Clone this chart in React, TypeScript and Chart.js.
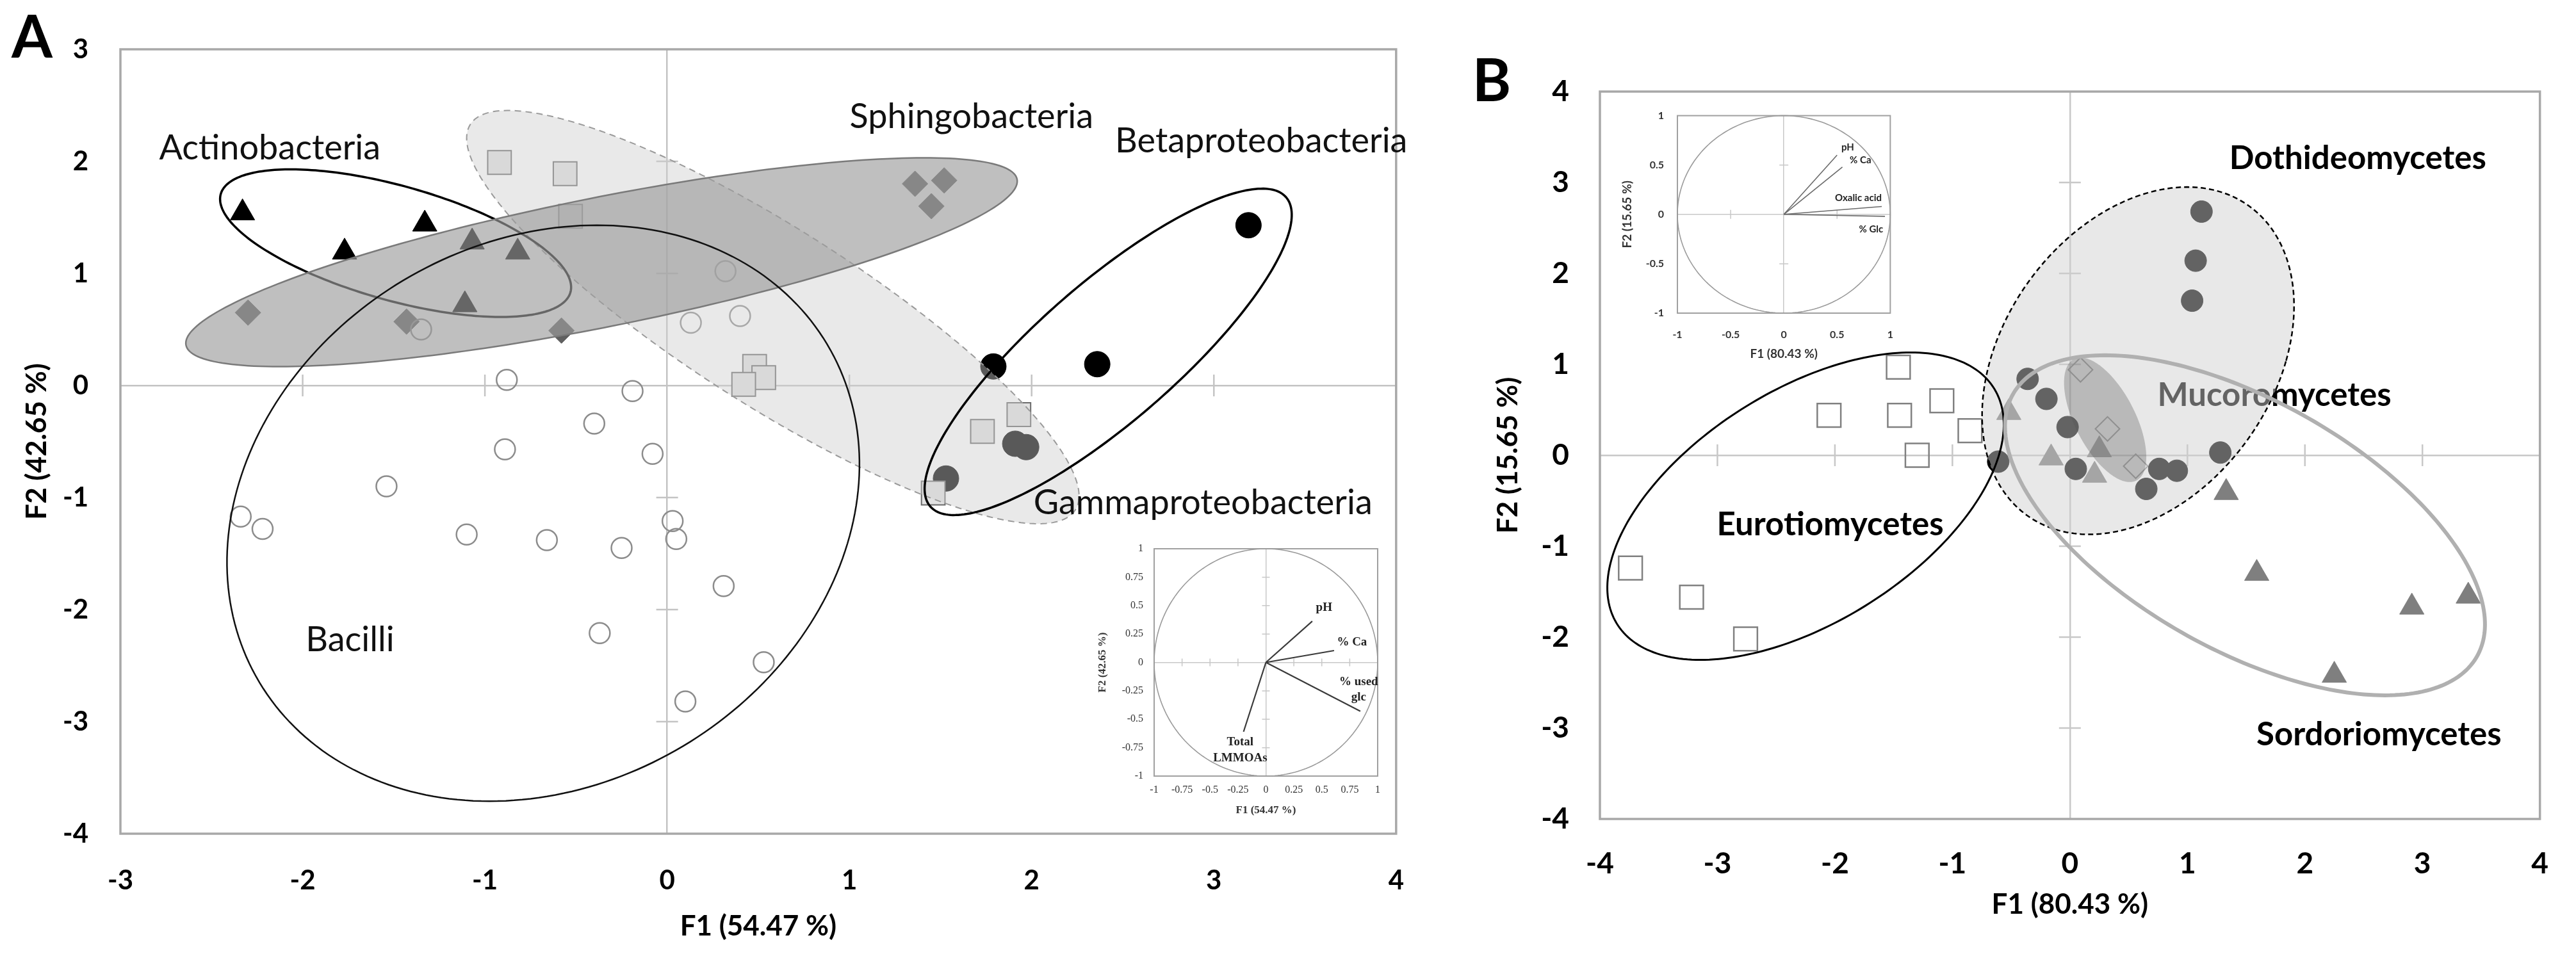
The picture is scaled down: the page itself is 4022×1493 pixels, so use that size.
import React, { useEffect, useRef } from 'react';
import { Chart, registerables } from 'chart.js';

Chart.register(...registerables);

type Pt = [number, number];

// ---------------- Panel A data ----------------
const A_X_TICKS = [-3, -2, -1, 0, 1, 2, 3, 4];
const A_Y_TICKS = [-4, -3, -2, -1, 0, 1, 2, 3];

const A_BACILLI: Pt[] = [
  [-1.35, 0.5], [-0.88, 0.05], [-0.89, -0.57], [-1.54, -0.9], [-2.34, -1.17], [-2.22, -1.28],
  [-1.1, -1.33], [-0.66, -1.38], [0.32, 1.02], [0.13, 0.56], [0.4, 0.62], [-0.19, -0.05],
  [-0.4, -0.34], [-0.08, -0.61], [0.03, -1.21], [0.05, -1.37], [-0.25, -1.45], [0.31, -1.79],
  [-0.37, -2.21], [0.53, -2.47], [0.1, -2.82],
];
const A_ACTINO: Pt[] = [[-2.33, 1.54], [-1.33, 1.44], [-1.77, 1.19], [-1.07, 1.28], [-0.82, 1.19], [-1.11, 0.72]];
const A_SPHINGO: Pt[] = [[-2.3, 0.65], [-1.43, 0.57], [-0.58, 0.49], [1.36, 1.8], [1.52, 1.83], [1.45, 1.6]];
const A_GAMMA: Pt[] = [[-0.92, 1.99], [-0.56, 1.89], [-0.53, 1.51], [0.48, 0.17], [0.53, 0.07], [0.42, 0.01], [1.93, -0.26], [1.73, -0.41], [1.46, -0.96]];
const A_BETA: Pt[] = [[3.19, 1.43], [2.36, 0.19], [1.79, 0.17], [1.91, -0.52], [1.97, -0.55], [1.53, -0.83]];

// ellipses: centre x, centre y, semi-axis u (x, y), semi-axis v (x, y) in data units
const A_ELL_BACILLI = [-0.68, -1.14, 1.71, 0, 0.295, 2.57];
const A_ELL_ACTINO = [-1.49, 1.27, 0.96, -0.35, -0.077, 0.558];
const A_ELL_SPHINGO = [-0.36, 1.1, 2.28, 0.74, 0.069, -0.566];
const A_ELL_GAMMA = [0.58, 0.61, 1.66, -1.72, -0.26, -0.665];
const A_ELL_BETA = [2.42, 0.3, 0.976, 1.38, 0.249, -0.466];

const A_GROUP_LABELS = ['Actinobacteria', 'Sphingobacteria', 'Betaproteobacteria', 'Gammaproteobacteria', 'Bacilli'];
const A_GROUP_LABEL_X = [-2.18, 1.67, 3.26, 2.94, -1.74];
const A_GROUP_LABEL_Y = [2.13, 2.41, 2.19, -1.04, -2.26];

// inset A (correlation circle)
const AI_TICKS = [-1, -0.75, -0.5, -0.25, 0, 0.25, 0.5, 0.75, 1];
const AI_VEC_X = [0.415, 0.61, 0.845, -0.2];
const AI_VEC_Y = [0.363, 0.104, -0.43, -0.61];
const AI_VEC_LABELS = ['pH', '% Ca', '% used\nglc', 'Total\nLMMOAs'];
const AI_VEC_LABEL_X = [0.52, 0.77, 0.83, -0.23];
const AI_VEC_LABEL_Y = [0.49, 0.19, -0.16, -0.69];

// ---------------- Panel B data ----------------
const B_TICKS = [-4, -3, -2, -1, 0, 1, 2, 3, 4];

const B_EUROTIO: Pt[] = [[-3.74, -1.24], [-3.22, -1.56], [-2.76, -2.02], [-2.05, 0.44], [-1.45, 0.44], [-1.3, 0.0], [-1.46, 0.97], [-1.09, 0.6], [-0.85, 0.27]];
const B_SORDARIO: Pt[] = [[1.59, -1.3], [2.91, -1.67], [3.39, -1.55], [2.25, -2.42], [1.33, -0.41], [-0.16, -0.03], [0.21, -0.22], [0.25, 0.06], [-0.52, 0.47]];
const B_DOTHI: Pt[] = [[1.12, 2.68], [1.07, 2.14], [1.04, 1.7], [-0.36, 0.84], [-0.2, 0.62], [-0.02, 0.31], [0.05, -0.15], [0.76, -0.15], [0.91, -0.17], [0.65, -0.37], [1.28, 0.03], [-0.61, -0.07]];
const B_MUCOR: Pt[] = [[0.09, 0.94], [0.32, 0.29], [0.56, -0.12]];

const B_ELL_EUROTIO = [-2.25, -0.56, 1.43, 0, 0.895, 1.69];
const B_ELL_DOTHI = [0.58, 1.04, 1.26, 0, 0.418, 1.91];
const B_ELL_SORDARIO = [1.49, -0.77, 1.66, 0, -1.19, 1.87];
const B_ELL_MUCOR = [0.3, 0.39, 0.268, -0.666, -0.225, -0.158];

const B_GROUP_LABELS = ['Dothideomycetes', 'Mucoromycetes', 'Eurotiomycetes', 'Sordoriomycetes'];
const B_GROUP_LABEL_X = [2.45, 1.74, -2.04, 2.63];
const B_GROUP_LABEL_Y = [3.28, 0.67, -0.75, -3.06];

// inset B
const BI_TICKS = [-1, -0.5, 0, 0.5, 1];
const BI_VEC_X = [0.5, 0.55, 0.92, 0.95];
const BI_VEC_Y = [0.6, 0.48, 0.08, -0.02];
const BI_VEC_LABELS = ['pH', '% Ca', 'Oxalic acid', '% Glc'];
const BI_VEC_LABEL_X = [0.6, 0.72, 0.7, 0.82];
const BI_VEC_LABEL_Y = [0.68, 0.55, 0.17, -0.15];

const UNIT_CIRCLE = [0, 0, 1, 0, 0, 1];

// ---------------- helpers ----------------
const SANS = 'Lato, "Open Sans", "DejaVu Sans", sans-serif';
const SERIF = '"Liberation Serif", "DejaVu Serif", serif';

const toXY = (a: Pt[]) => a.map(([x, y]) => ({ x, y }));
const plainTick = (v: any) => String(Math.round(Number(v) * 100) / 100);

function ellPath(ctx: CanvasRenderingContext2D, chart: any, e: number[]) {
  const xs = chart.scales.x;
  const ys = chart.scales.y;
  const n = 240;
  ctx.beginPath();
  for (let i = 0; i <= n; i++) {
    const t = (i / n) * Math.PI * 2;
    const dx = e[0] + e[2] * Math.cos(t) + e[4] * Math.sin(t);
    const dy = e[1] + e[3] * Math.cos(t) + e[5] * Math.sin(t);
    const px = xs.getPixelForValue(dx);
    const py = ys.getPixelForValue(dy);
    if (i === 0) ctx.moveTo(px, py);
    else ctx.lineTo(px, py);
  }
  ctx.closePath();
}

function frameAndCross(chart: any, len: number, frameColor: string, frameW: number, crossColor: string, crossW: number) {
  const { ctx, chartArea: a } = chart;
  const xs = chart.scales.x;
  const ys = chart.scales.y;
  const x0 = xs.getPixelForValue(0);
  const y0 = ys.getPixelForValue(0);
  ctx.save();
  ctx.strokeStyle = crossColor;
  ctx.lineWidth = crossW;
  ctx.beginPath();
  xs.ticks.forEach((t: any) => {
    if (t.value === 0 || t.value === xs.min || t.value === xs.max) return;
    const px = xs.getPixelForValue(t.value);
    ctx.moveTo(px, y0 - len);
    ctx.lineTo(px, y0 + len);
  });
  ys.ticks.forEach((t: any) => {
    if (t.value === 0 || t.value === ys.min || t.value === ys.max) return;
    const py = ys.getPixelForValue(t.value);
    ctx.moveTo(x0 - len, py);
    ctx.lineTo(x0 + len, py);
  });
  ctx.stroke();
  ctx.strokeStyle = frameColor;
  ctx.lineWidth = frameW;
  ctx.strokeRect(a.left, a.top, a.right - a.left, a.bottom - a.top);
  ctx.restore();
}

function text(ctx: CanvasRenderingContext2D, s: string, px: number, py: number, font: string, size: number, weight: string, color: string, lineGap = 1.3) {
  ctx.font = `${weight} ${size}px ${font}`;
  ctx.fillStyle = color;
  ctx.textAlign = 'center';
  ctx.textBaseline = 'alphabetic';
  s.split('\n').forEach((line, i) => {
    ctx.fillText(line, px, py + 0.36 * size + i * size * lineGap);
  });
}

function dataText(chart: any, s: string, x: number, y: number, font: string, size: number, weight: string, color: string, lineGap = 1.3) {
  text(chart.ctx, s, chart.scales.x.getPixelForValue(x), chart.scales.y.getPixelForValue(y), font, size, weight, color, lineGap);
}

function gridZero(color: string, w: number) {
  return {
    drawTicks: false,
    lineWidth: w,
    color: (c: any) => (c.tick && c.tick.value === 0 ? color : 'rgba(0,0,0,0)'),
  };
}

function ptDataset(label: string, pts: Pt[], style: string, r: number, bg: string, border: string, bw: number) {
  return {
    label,
    data: toXY(pts),
    pointStyle: style,
    pointRadius: r,
    pointHoverRadius: r,
    backgroundColor: bg,
    borderColor: border,
    borderWidth: bw,
  };
}

// ---------------- chart configs ----------------
function configA(): any {
  const plugin = {
    id: 'panelA',
    beforeDatasetsDraw(chart: any) {
      frameAndCross(chart, 17, '#a8a8a8', 3.5, '#c4c4c4', 2.5);
    },
    afterDatasetsDraw(chart: any) {
      const ctx: CanvasRenderingContext2D = chart.ctx;
      ctx.save();
      ellPath(ctx, chart, A_ELL_GAMMA);
      ctx.fillStyle = 'rgba(205,205,205,0.435)';
      ctx.fill();
      ctx.setLineDash([10, 7]);
      ctx.strokeStyle = '#9a9a9a';
      ctx.lineWidth = 2;
      ctx.stroke();
      ctx.setLineDash([]);

      ellPath(ctx, chart, A_ELL_ACTINO);
      ctx.strokeStyle = '#000';
      ctx.lineWidth = 3.5;
      ctx.stroke();

      ellPath(ctx, chart, A_ELL_SPHINGO);
      ctx.fillStyle = 'rgba(157,157,157,0.65)';
      ctx.fill();
      ctx.strokeStyle = '#7a7a7a';
      ctx.lineWidth = 2.5;
      ctx.stroke();

      ellPath(ctx, chart, A_ELL_BACILLI);
      ctx.strokeStyle = '#111';
      ctx.lineWidth = 2.5;
      ctx.stroke();

      ellPath(ctx, chart, A_ELL_BETA);
      ctx.strokeStyle = '#000';
      ctx.lineWidth = 3.5;
      ctx.stroke();

      A_GROUP_LABELS.forEach((s, i) => dataText(chart, s, A_GROUP_LABEL_X[i], A_GROUP_LABEL_Y[i], SANS, 54, 'normal', '#111'));
      text(ctx, 'A', 50, 57, SANS, 92, 'bold', '#000');
      ctx.restore();
    },
  };
  return {
    type: 'scatter',
    data: {
      datasets: [
        ptDataset('Bacilli', A_BACILLI, 'circle', 16, 'rgba(0,0,0,0)', '#8c8c8c', 2.5),
        ptDataset('Actinobacteria', A_ACTINO, 'triangle', 22, '#000', '#000', 1),
        ptDataset('Sphingobacteria', A_SPHINGO, 'rectRot', 20, '#5f5f5f', '#5f5f5f', 1),
        ptDataset('Gammaproteobacteria', A_GAMMA, 'rect', 26, '#e2e2e2', '#6a6a6a', 2),
        ptDataset('Betaproteobacteria', A_BETA, 'circle', 20, '#000', '#000', 1),
      ],
    },
    options: {
      responsive: false,
      animation: false,
      devicePixelRatio: 1,
      events: [],
      layout: { padding: { top: 77, right: 60, bottom: 0, left: 0 } },
      plugins: { legend: { display: false }, tooltip: { enabled: false } },
      scales: {
        x: {
          type: 'linear',
          min: -3,
          max: 4,
          afterBuildTicks: (s: any) => { s.ticks = A_X_TICKS.map((v) => ({ value: v })); },
          afterFit: (s: any) => { s.height = 191; },
          ticks: { color: '#000', font: { family: SANS, size: 42, weight: 'bold' }, padding: 48, callback: plainTick },
          grid: gridZero('#c4c4c4', 2.5),
          border: { display: false },
          title: { display: true, text: 'F1 (54.47 %)', color: '#000', font: { family: SANS, size: 44, weight: 'bold' }, padding: { top: 0, bottom: 20 } },
        },
        y: {
          type: 'linear',
          min: -4,
          max: 3,
          afterBuildTicks: (s: any) => { s.ticks = A_Y_TICKS.map((v) => ({ value: v })); },
          afterFit: (s: any) => { s.width = 188; },
          ticks: { color: '#000', font: { family: SANS, size: 42, weight: 'bold' }, padding: 50, callback: plainTick },
          grid: gridZero('#c4c4c4', 2.5),
          border: { display: false },
          title: { display: true, text: 'F2 (42.65 %)', color: '#000', font: { family: SANS, size: 44, weight: 'bold' }, padding: { top: 31, bottom: 0 } },
        },
      },
    },
    plugins: [plugin],
  };
}

function configB(): any {
  const plugin = {
    id: 'panelB',
    beforeDatasetsDraw(chart: any) {
      frameAndCross(chart, 17, '#a8a8a8', 3.5, '#c8c8c8', 2.5);
    },
    afterDatasetsDraw(chart: any) {
      const ctx: CanvasRenderingContext2D = chart.ctx;
      ctx.save();
      // label under the translucent overlay
      dataText(chart, B_GROUP_LABELS[1], B_GROUP_LABEL_X[1], B_GROUP_LABEL_Y[1], SANS, 51, 'bold', '#000');

      ellPath(ctx, chart, B_ELL_DOTHI);
      ctx.fillStyle = 'rgba(207,207,207,0.48)';
      ctx.fill();
      ctx.setLineDash([8, 5]);
      ctx.strokeStyle = '#000';
      ctx.lineWidth = 2.5;
      ctx.stroke();
      ctx.setLineDash([]);

      ellPath(ctx, chart, B_ELL_MUCOR);
      ctx.fillStyle = 'rgba(85,85,85,0.32)';
      ctx.fill();

      ellPath(ctx, chart, B_ELL_EUROTIO);
      ctx.strokeStyle = '#000';
      ctx.lineWidth = 3;
      ctx.stroke();

      ellPath(ctx, chart, B_ELL_SORDARIO);
      ctx.strokeStyle = '#b0b0b0';
      ctx.lineWidth = 6;
      ctx.stroke();

      [0, 2, 3].forEach((i) => dataText(chart, B_GROUP_LABELS[i], B_GROUP_LABEL_X[i], B_GROUP_LABEL_Y[i], SANS, 51, 'bold', '#000'));
      text(ctx, 'B', 89, 125, SANS, 92, 'bold', '#000');
      ctx.restore();
    },
  };
  return {
    type: 'scatter',
    data: {
      datasets: [
        ptDataset('Eurotiomycetes', B_EUROTIO, 'rect', 26, 'rgba(255,255,255,0)', '#808080', 2.5),
        ptDataset('Sordoriomycetes', B_SORDARIO, 'triangle', 22, '#7f7f7f', '#7f7f7f', 1),
        ptDataset('Dothideomycetes', B_DOTHI, 'circle', 17, '#000', '#000', 1),
        ptDataset('Mucoromycetes', B_MUCOR, 'rectRot', 19, 'rgba(255,255,255,0)', '#8c8c8c', 2),
      ],
    },
    options: {
      responsive: false,
      animation: false,
      devicePixelRatio: 1,
      events: [],
      layout: { padding: { top: 143, right: 32, bottom: 0, left: 0 } },
      plugins: { legend: { display: false }, tooltip: { enabled: false } },
      scales: {
        x: {
          type: 'linear',
          min: -4,
          max: 4,
          afterBuildTicks: (s: any) => { s.ticks = B_TICKS.map((v) => ({ value: v })); },
          afterFit: (s: any) => { s.height = 214; },
          ticks: { color: '#000', font: { family: SANS, size: 46, weight: 'bold' }, padding: 43, callback: plainTick },
          grid: gridZero('#c8c8c8', 2.5),
          border: { display: false },
          title: { display: true, text: 'F1 (80.43 %)', color: '#000', font: { family: SANS, size: 44, weight: 'bold' }, padding: { top: 0, bottom: 54 } },
        },
        y: {
          type: 'linear',
          min: -4,
          max: 4,
          afterBuildTicks: (s: any) => { s.ticks = B_TICKS.map((v) => ({ value: v })); },
          afterFit: (s: any) => { s.width = 258; },
          ticks: { color: '#000', font: { family: SANS, size: 46, weight: 'bold' }, padding: 48, callback: plainTick },
          grid: gridZero('#c8c8c8', 2.5),
          border: { display: false },
          title: { display: true, text: 'F2 (15.65 %)', color: '#000', font: { family: SANS, size: 44, weight: 'bold' }, padding: { top: 88, bottom: 0 } },
        },
      },
    },
    plugins: [plugin],
  };
}

function configInset(p: any): any {
  const plugin = {
    id: 'inset',
    beforeDatasetsDraw(chart: any) {
      frameAndCross(chart, p.crossLen, '#a0a0a0', 2, '#c8c8c8', 1.5);
      const ctx: CanvasRenderingContext2D = chart.ctx;
      ctx.save();
      ellPath(ctx, chart, UNIT_CIRCLE);
      ctx.strokeStyle = '#9a9a9a';
      ctx.lineWidth = 1.6;
      ctx.stroke();
      ctx.restore();
    },
    afterDatasetsDraw(chart: any) {
      const ctx: CanvasRenderingContext2D = chart.ctx;
      ctx.save();
      p.labels.forEach((s: string, i: number) => dataText(chart, s, p.labelX[i], p.labelY[i], p.family, p.labelSize, 'bold', '#222', p.lineGap));
      ctx.restore();
    },
  };
  const tickFont = { family: p.family, size: p.tickSize, weight: p.tickWeight };
  const titleFont = { family: p.family, size: p.titleSize, weight: 'bold' };
  return {
    type: 'scatter',
    data: {
      datasets: p.vecX.map((vx: number, i: number) => ({
        label: p.labels[i],
        data: [{ x: 0, y: 0 }, { x: vx, y: p.vecY[i] }],
        showLine: true,
        pointRadius: 0,
        borderColor: p.vecColor,
        borderWidth: p.vecWidth,
      })),
    },
    options: {
      responsive: false,
      animation: false,
      devicePixelRatio: 1,
      events: [],
      layout: { padding: { top: p.padTop, right: p.padRight, bottom: 0, left: 0 } },
      plugins: { legend: { display: false }, tooltip: { enabled: false } },
      scales: {
        x: {
          type: 'linear',
          min: -1,
          max: 1,
          afterBuildTicks: (s: any) => { s.ticks = p.ticks.map((v: number) => ({ value: v })); },
          afterFit: (s: any) => { s.height = p.xH; },
          ticks: { color: '#333', font: tickFont, padding: p.xTickPad, callback: plainTick },
          grid: gridZero('#c8c8c8', 1.5),
          border: { display: false },
          title: { display: true, text: p.xTitle, color: '#333', font: titleFont, padding: { top: 0, bottom: p.xTitlePadB } },
        },
        y: {
          type: 'linear',
          min: -1,
          max: 1,
          afterBuildTicks: (s: any) => { s.ticks = p.ticks.map((v: number) => ({ value: v })); },
          afterFit: (s: any) => { s.width = p.yW; },
          ticks: { color: '#333', font: tickFont, padding: p.yTickPad, callback: plainTick },
          grid: gridZero('#c8c8c8', 1.5),
          border: { display: false },
          title: { display: true, text: p.yTitle, color: '#333', font: titleFont, padding: { top: p.yTitlePadT, bottom: 0 } },
        },
      },
    },
    plugins: [plugin],
  };
}

export default function App() {
  const aRef = useRef<HTMLCanvasElement>(null);
  const bRef = useRef<HTMLCanvasElement>(null);
  const aiRef = useRef<HTMLCanvasElement>(null);
  const biRef = useRef<HTMLCanvasElement>(null);

  useEffect(() => {
    const charts: Chart[] = [];
    charts.push(new Chart(aRef.current as HTMLCanvasElement, configA()));
    charts.push(new Chart(bRef.current as HTMLCanvasElement, configB()));
    charts.push(
      new Chart(
        aiRef.current as HTMLCanvasElement,
        configInset({
          ticks: AI_TICKS, vecX: AI_VEC_X, vecY: AI_VEC_Y, labels: AI_VEC_LABELS, labelX: AI_VEC_LABEL_X, labelY: AI_VEC_LABEL_Y,
          xTitle: 'F1 (54.47 %)', yTitle: 'F2 (42.65 %)', family: SERIF, tickSize: 16, tickWeight: 'normal', titleSize: 17, labelSize: 19,
          lineGap: 1.3, yW: 122, xH: 68, padTop: 27, padRight: 29, xTickPad: 12, yTickPad: 17, xTitlePadB: 4, yTitlePadT: 31,
          crossLen: 6, vecColor: '#3a3a3a', vecWidth: 2.2,
        })
      )
    );
    charts.push(
      new Chart(
        biRef.current as HTMLCanvasElement,
        configInset({
          ticks: BI_TICKS, vecX: BI_VEC_X, vecY: BI_VEC_Y, labels: BI_VEC_LABELS, labelX: BI_VEC_LABEL_X, labelY: BI_VEC_LABEL_Y,
          xTitle: 'F1 (80.43 %)', yTitle: 'F2 (15.65 %)', family: SANS, tickSize: 16, tickWeight: 'bold', titleSize: 19, labelSize: 15,
          lineGap: 1.3, yW: 109, xH: 81, padTop: 26, padRight: 23, xTickPad: 24, yTickPad: 21, xTitlePadB: 6, yTitlePadT: 19,
          crossLen: 7, vecColor: '#6a6a6a', vecWidth: 1.6,
        })
      )
    );
    return () => charts.forEach((c) => c.destroy());
  }, []);

  return (
    <div style={{ position: 'absolute', left: 0, top: 0, width: 4022, height: 1493, background: '#fff', overflow: 'hidden' }}>
      <canvas ref={aRef} width={2240} height={1493} style={{ position: 'absolute', left: 0, top: 0 }} />
      <canvas ref={bRef} width={1782} height={1493} style={{ position: 'absolute', left: 2240, top: 0 }} />
      <canvas ref={aiRef} width={500} height={450} style={{ position: 'absolute', left: 1680, top: 830 }} />
      <canvas ref={biRef} width={470} height={420} style={{ position: 'absolute', left: 2510, top: 150 }} />
    </div>
  );
}
